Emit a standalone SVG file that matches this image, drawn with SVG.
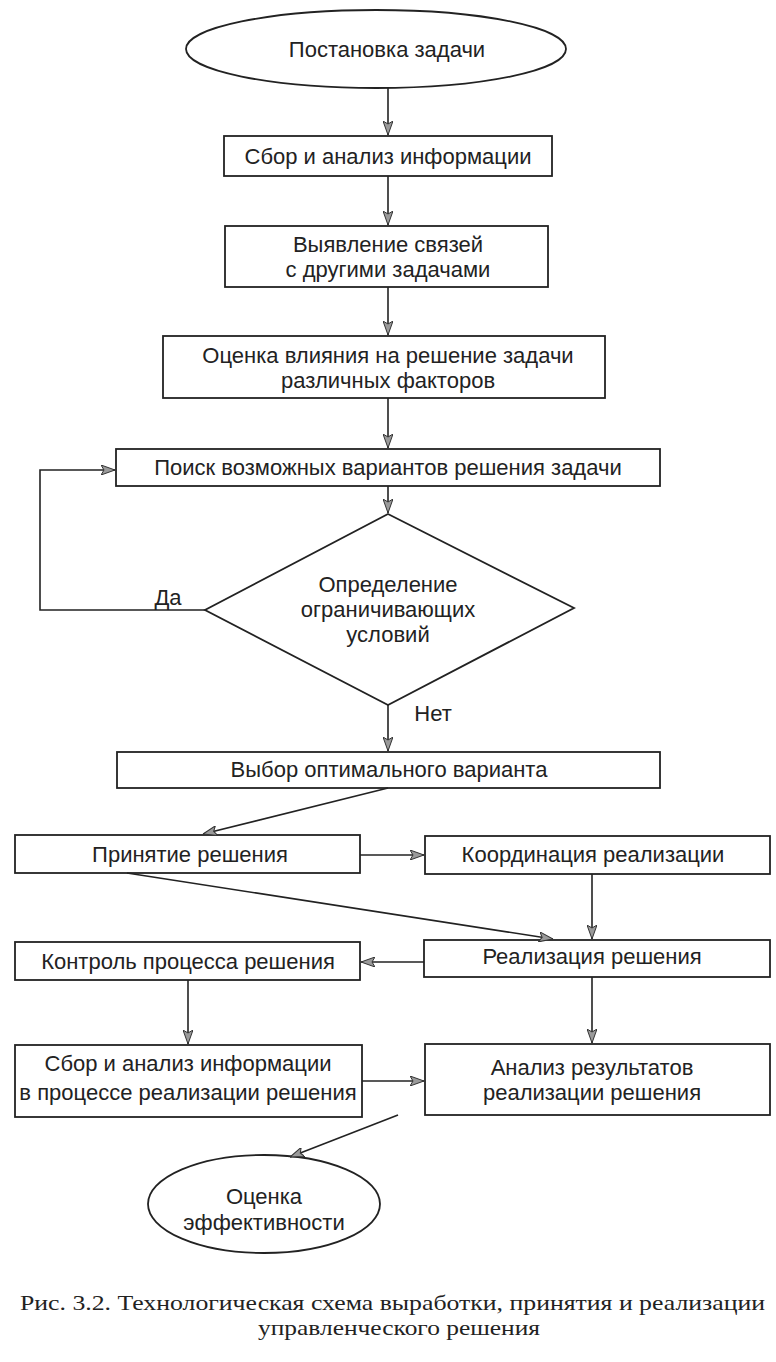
<svg xmlns="http://www.w3.org/2000/svg" width="776" height="1362" viewBox="0 0 776 1362">
<defs>
<marker id="ah" viewBox="0 0 14 10" refX="14" refY="5" markerWidth="14" markerHeight="10" markerUnits="userSpaceOnUse" orient="auto">
<path d="M0,0 L14,5 L0,10 L3,5 Z" fill="#9a9a9a" stroke="#333" stroke-width="1"/>
</marker>
</defs>
<style>
.n{fill:#fff;stroke:#222;stroke-width:1.8}
.t{font-family:"Liberation Sans",Arial,sans-serif;font-size:22px;fill:#222;text-anchor:middle}
.c{fill:none;stroke:#222;stroke-width:1.6}
.a{marker-end:url(#ah)}
.cap{font-family:"Liberation Serif","Times New Roman",serif;font-size:21px;fill:#222}
</style>
<rect width="776" height="1362" fill="#fff"/>
<g id="n1"><ellipse class="n" cx="376" cy="49" rx="190" ry="39"/><text class="t" x="387" y="57">Постановка задачи</text></g>
<g id="n2"><rect class="n" x="224" y="136" width="328" height="40"/><text class="t" x="388" y="164">Сбор и анализ информации</text></g>
<g id="n3"><rect class="n" x="225" y="226" width="323" height="61"/><text class="t" x="388" y="252">Выявление связей</text><text class="t" x="388" y="277">с другими задачами</text></g>
<g id="n4"><rect class="n" x="163" y="336" width="442" height="62"/><text class="t" x="388" y="363">Оценка влияния на решение задачи</text><text class="t" x="388" y="388">различных факторов</text></g>
<g id="n5"><rect class="n" x="116" y="449" width="544" height="37"/><text class="t" x="388" y="475">Поиск возможных вариантов решения задачи</text></g>
<g id="n6"><polygon class="n" points="388,514 574,608 388,705 205,610"/><text class="t" x="388" y="592">Определение</text><text class="t" x="388" y="617">ограничивающих</text><text class="t" x="388" y="642">условий</text></g>
<text class="t" x="168" y="605">Да</text>
<text class="t" x="433" y="721">Нет</text>
<g id="n7"><rect class="n" x="117" y="752" width="543" height="36"/><text class="t" x="389" y="777">Выбор оптимального варианта</text></g>
<g id="n8"><rect class="n" x="15" y="835" width="345" height="38"/><text class="t" x="190" y="862">Принятие решения</text></g>
<g id="n9"><rect class="n" x="425" y="836" width="345" height="38"/><text class="t" x="593" y="862">Координация реализации</text></g>
<g id="n10"><rect class="n" x="424" y="940" width="346" height="37"/><text class="t" x="592" y="964">Реализация решения</text></g>
<g id="n11"><rect class="n" x="15" y="942" width="345" height="38"/><text class="t" x="188" y="969">Контроль процесса решения</text></g>
<g id="n12"><rect class="n" x="15" y="1045" width="347" height="72"/><text class="t" x="188" y="1071">Сбор и анализ информации</text><text class="t" x="188" y="1100">в процессе реализации решения</text></g>
<g id="n13"><rect class="n" x="425" y="1044" width="345" height="71"/><text class="t" x="592" y="1075">Анализ результатов</text><text class="t" x="592" y="1100">реализации решения</text></g>
<g id="n14"><ellipse class="n" cx="264" cy="1204" rx="116" ry="49"/><text class="t" x="264" y="1204">Оценка</text><text class="t" x="264" y="1230">эффективности</text></g>
<g id="connectors">
<line class="c a" x1="388" y1="88" x2="388" y2="135"/>
<line class="c a" x1="388" y1="176" x2="388" y2="225"/>
<line class="c a" x1="388" y1="287" x2="388" y2="335"/>
<line class="c a" x1="388" y1="398" x2="388" y2="448"/>
<line class="c a" x1="388" y1="486" x2="388" y2="513"/>
<polyline class="c a" points="205,610 40,610 40,470 115,470"/>
<line class="c a" x1="388" y1="705" x2="388" y2="751"/>
<line class="c a" x1="388" y1="788" x2="203" y2="834"/>
<line class="c a" x1="360" y1="855" x2="424" y2="855"/>
<line class="c a" x1="127" y1="873" x2="553" y2="939"/>
<line class="c a" x1="592" y1="874" x2="592" y2="939"/>
<line class="c a" x1="424" y1="962" x2="361" y2="962"/>
<line class="c a" x1="188" y1="980" x2="188" y2="1044"/>
<line class="c a" x1="592" y1="977" x2="592" y2="1043"/>
<line class="c a" x1="362" y1="1081" x2="424" y2="1081"/>
<line class="c a" x1="398" y1="1115" x2="290" y2="1157"/>
</g>
<g id="caption">
<text class="cap" x="20" y="1310" textLength="745" lengthAdjust="spacingAndGlyphs">Рис. 3.2. Технологическая схема выработки, принятия и реализации</text>
<text class="cap" x="258" y="1335" textLength="282" lengthAdjust="spacingAndGlyphs">управленческого решения</text>
</g>
</svg>
